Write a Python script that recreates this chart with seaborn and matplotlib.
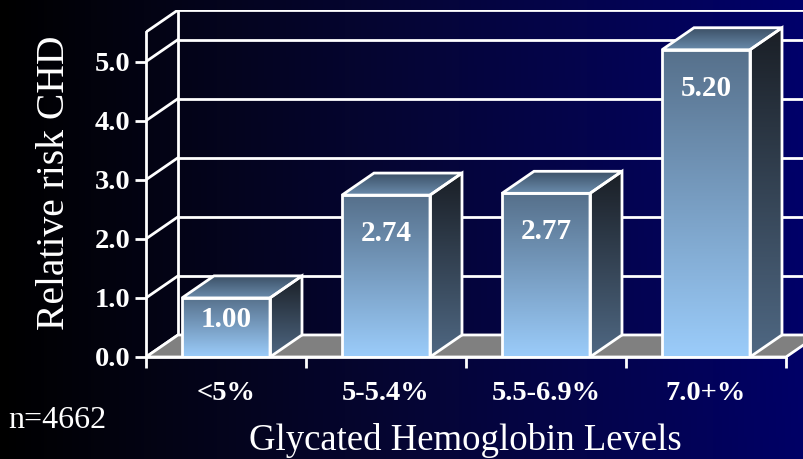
import matplotlib
matplotlib.use('Agg')
import matplotlib.pyplot as plt
import numpy as np
import pandas as pd
import seaborn as sns
from matplotlib.colors import to_rgb
from matplotlib.patches import Polygon

# data
levels = ['<5%', '5-5.4%', '5.5-6.9%', '7.0+%']
risk = [1.00, 2.74, 2.77, 5.20]
y_ticks = [0, 1, 2, 3, 4, 5]
y_tick_labels = ['0.0', '1.0', '2.0', '3.0', '4.0', '5.0']

df = pd.DataFrame({'level': levels, 'risk': risk})

sns.set_style('white')
plt.rcParams['font.family'] = ['Liberation Serif', 'DejaVu Serif']

# fake 3d depth (data units)
DX = 0.2
DY = 0.373
YTOP = 5.5


def gradient(c0, c1, n=128):
    a = np.array(to_rgb(c0))
    b = np.array(to_rgb(c1))
    t = np.linspace(0, 1, n)[:, None]
    return a + (b - a) * t


fig = plt.figure(figsize=(8.04, 4.59), dpi=100)

# background: black -> navy
bg = fig.add_axes([0, 0, 1, 1], zorder=-10)
xx = np.linspace(0, 1, 256)
yy = np.linspace(0, 1, 64)[:, None]
blue = 0.40 * xx[None, :] * (1 + 0.05 * (1 - yy))
img = np.zeros((64, 256, 3))
img[..., 2] = blue
img[..., 0] = 0.02 * xx * (1 - xx) * 4
img[..., 1] = 0.02 * xx * (1 - xx) * 4
bg.imshow(img, aspect='auto', extent=(0, 1, 0, 1), origin='upper')
bg.axis('off')

ax = fig.add_axes([146 / 804, 102 / 459, 672 / 804, 347 / 459])
ax.set_facecolor('none')

sns.barplot(data=df, x='level', y='risk', order=levels, width=0.55,
            color='white', ax=ax, zorder=5)

# back wall + left wall grid
for k in y_ticks + [YTOP]:
    ax.plot([-0.3, 3.5 + DX + 0.5], [k + DY, k + DY], color='white', lw=2, zorder=1)
    ax.plot([-0.5, -0.5 + DX], [k, k + DY], color='white', lw=2, zorder=1)
ax.plot([-0.5 + DX, -0.5 + DX], [DY, YTOP + DY], color='white', lw=2, zorder=1)

# floor
floor = Polygon([(-0.5, 0), (3.5, 0), (3.5 + DX, DY), (-0.5 + DX, DY)],
                closed=True, facecolor='#808080', edgecolor='white', lw=2, zorder=2)
ax.add_patch(floor)

# bars: gradient faces + side + top
for bar, v, lab in zip(ax.patches, risk, levels):
    x0 = bar.get_x()
    w = bar.get_width()
    x1 = x0 + w
    h = bar.get_height()
    bar.set_facecolor('none')
    bar.set_edgecolor('white')
    bar.set_linewidth(2)
    bar.set_zorder(8)

    front = ax.imshow(gradient('#9bccfa', '#56708b')[:, None, :], origin='lower',
                      extent=(x0, x1, 0, h), aspect='auto', zorder=6)
    front.set_clip_path(bar)

    side = Polygon([(x1, 0), (x1 + DX, DY), (x1 + DX, h + DY), (x1, h)], closed=True,
                   facecolor='none', edgecolor='white', lw=2, zorder=8)
    ax.add_patch(side)
    sim = ax.imshow(gradient('#4f6883', '#1a1f26')[:, None, :], origin='lower',
                    extent=(x1, x1 + DX, 0, h + DY), aspect='auto', zorder=6)
    sim.set_clip_path(side)

    top = Polygon([(x0, h), (x1, h), (x1 + DX, h + DY), (x0 + DX, h + DY)], closed=True,
                  facecolor='none', edgecolor='white', lw=2, zorder=8)
    ax.add_patch(top)
    tim = ax.imshow(gradient('#6a8bab', '#3a4e64')[:, None, :], origin='lower',
                    extent=(x0, x1 + DX, h, h + DY), aspect='auto', zorder=6)
    tim.set_clip_path(top)

    ax.text(x0 + w / 2, h - min(0.65, 0.37 * h), f'{v:.2f}', ha='center', va='center',
            color='white', fontsize=21, fontweight='bold', zorder=10)

ax.set_xlim(-0.5, 3.5 + DX)
ax.set_ylim(0, YTOP + DY)

for s in ['top', 'right']:
    ax.spines[s].set_visible(False)
ax.spines['left'].set_bounds(0, YTOP)
ax.spines['bottom'].set_bounds(-0.5, 3.5)
for s in ['left', 'bottom']:
    ax.spines[s].set_color('white')
    ax.spines[s].set_linewidth(2)
    ax.spines[s].set_zorder(9)

ax.set_yticks(y_ticks)
ax.set_yticklabels(y_tick_labels, fontsize=20.5, fontweight='bold', color='white')
ax.tick_params(axis='y', direction='out', length=8, width=2, color='white', pad=3, left=True)
ax.set_xticks(range(len(levels)))
ax.set_xticklabels(levels, fontsize=20.5, fontweight='bold', color='white')
ax.set_xticks(np.arange(-0.5, 4, 1), minor=True)
ax.tick_params(axis='x', which='major', length=0, pad=17)
ax.tick_params(axis='x', which='minor', direction='out', length=8, width=2, color='white',
               bottom=True)

ax.set_xlabel('')
ax.set_ylabel('')
fig.text(55 / 804, 1 - 183 / 459, 'Relative risk CHD', rotation=90, ha='center', va='center',
         color='white', fontsize=28.5)
fig.text(465 / 804, 1 - 440 / 459, 'Glycated Hemoglobin Levels', ha='center', va='center',
         color='white', fontsize=26.5)
fig.text(8 / 804, 1 - 420 / 459, 'n=4662', ha='left', va='center', color='white', fontsize=23)

fig.savefig('out.png', dpi=100)
